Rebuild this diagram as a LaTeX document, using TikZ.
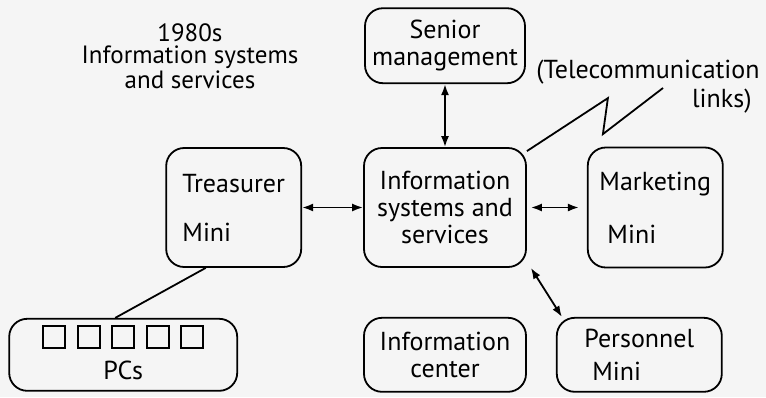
\documentclass[tikz,border=0pt]{standalone}
\usepackage{fontspec}
\setmainfont{PT Sans}
\usetikzlibrary{positioning, arrows.meta}

\begin{document}
\begin{tikzpicture}[x=0.5pt, y=-0.5pt, node distance=30pt, >={Latex[length=5.5pt, width=4pt]}, line width=0.9pt,
        unit/.style={draw, rectangle, rounded corners=9pt, inner sep=3pt, font=\fontsize{13}{13.5}\selectfont},
        pcbox/.style={draw, rectangle, minimum size=11pt, inner sep=0pt, line width=0.8pt},
        caption/.style={font=\fontsize{12.5}{11}\selectfont}]
        % Frame
        \useasboundingbox[fill=black!4] (0,0) rectangle (766,397);

        % Nodes
        \node[unit, minimum width=81pt, minimum height=59.5pt, align=center] (info) at (445,207.5) {Information\\systems and\\services};
        \node[unit, minimum width=80pt, minimum height=37.5pt, align=center, above=31.5pt of info] (senior) {Senior\\management};
        \node[unit, minimum width=67.5pt, minimum height=59.5pt, align=left, left=30.5pt of info] (treas) {Treasurer\\[11pt]Mini};
        \node[unit, minimum width=67.5pt, minimum height=60pt, align=left, right=30pt of info] (mkt) {Marketing\\[13pt]\hspace*{4pt}Mini};
        \node[unit, minimum width=81pt, minimum height=37pt, align=center, below=24.5pt of info] (center) {Information\\center};
        \node[unit, minimum width=82.5pt, minimum height=37pt, align=left, right=14.5pt of center] (pers) {Personnel\\[3pt]\hspace*{4pt}Mini};
        \node[unit, minimum width=114pt, minimum height=36pt, align=center, left=62.5pt of center] (pcs) {\rule{0pt}{9pt}\\[2pt]PCs};
        \foreach \i in {1,...,5}
            \node[pcbox] (pc\i) at ([xshift={(\i-3)*17.25pt}, yshift=9pt]pcs.center) {};

        \node[caption, align=center] (title) at (190,56) {1980s\\Information systems\\and services};
        \node[caption, font=\fontsize{13}{13.5}\selectfont, align=right] (telecom) at (648,87) {(Telecommunication\\[1pt]links)\kern4pt};
        \coordinate (telend) at (663,88);

        % Arrows
        \draw[<->] (senior) -- (info);
        \draw[<->] (treas) -- (info);
        \draw[<->, shorten <=2pt, shorten >=4pt] (info) -- (mkt);
        \draw[<->] ([xshift=2pt]info.south east) -- ([xshift=3pt]pers.north west);
        \draw ([xshift=-14pt]treas.south) -- ([xshift=-4pt]pcs.north);
        \draw ([yshift=-2pt]info.north east) -- ++(40.5pt,26.5pt) -- ++(-2.5pt,-18pt) -- (telend);
    \end{tikzpicture}
\end{document}
